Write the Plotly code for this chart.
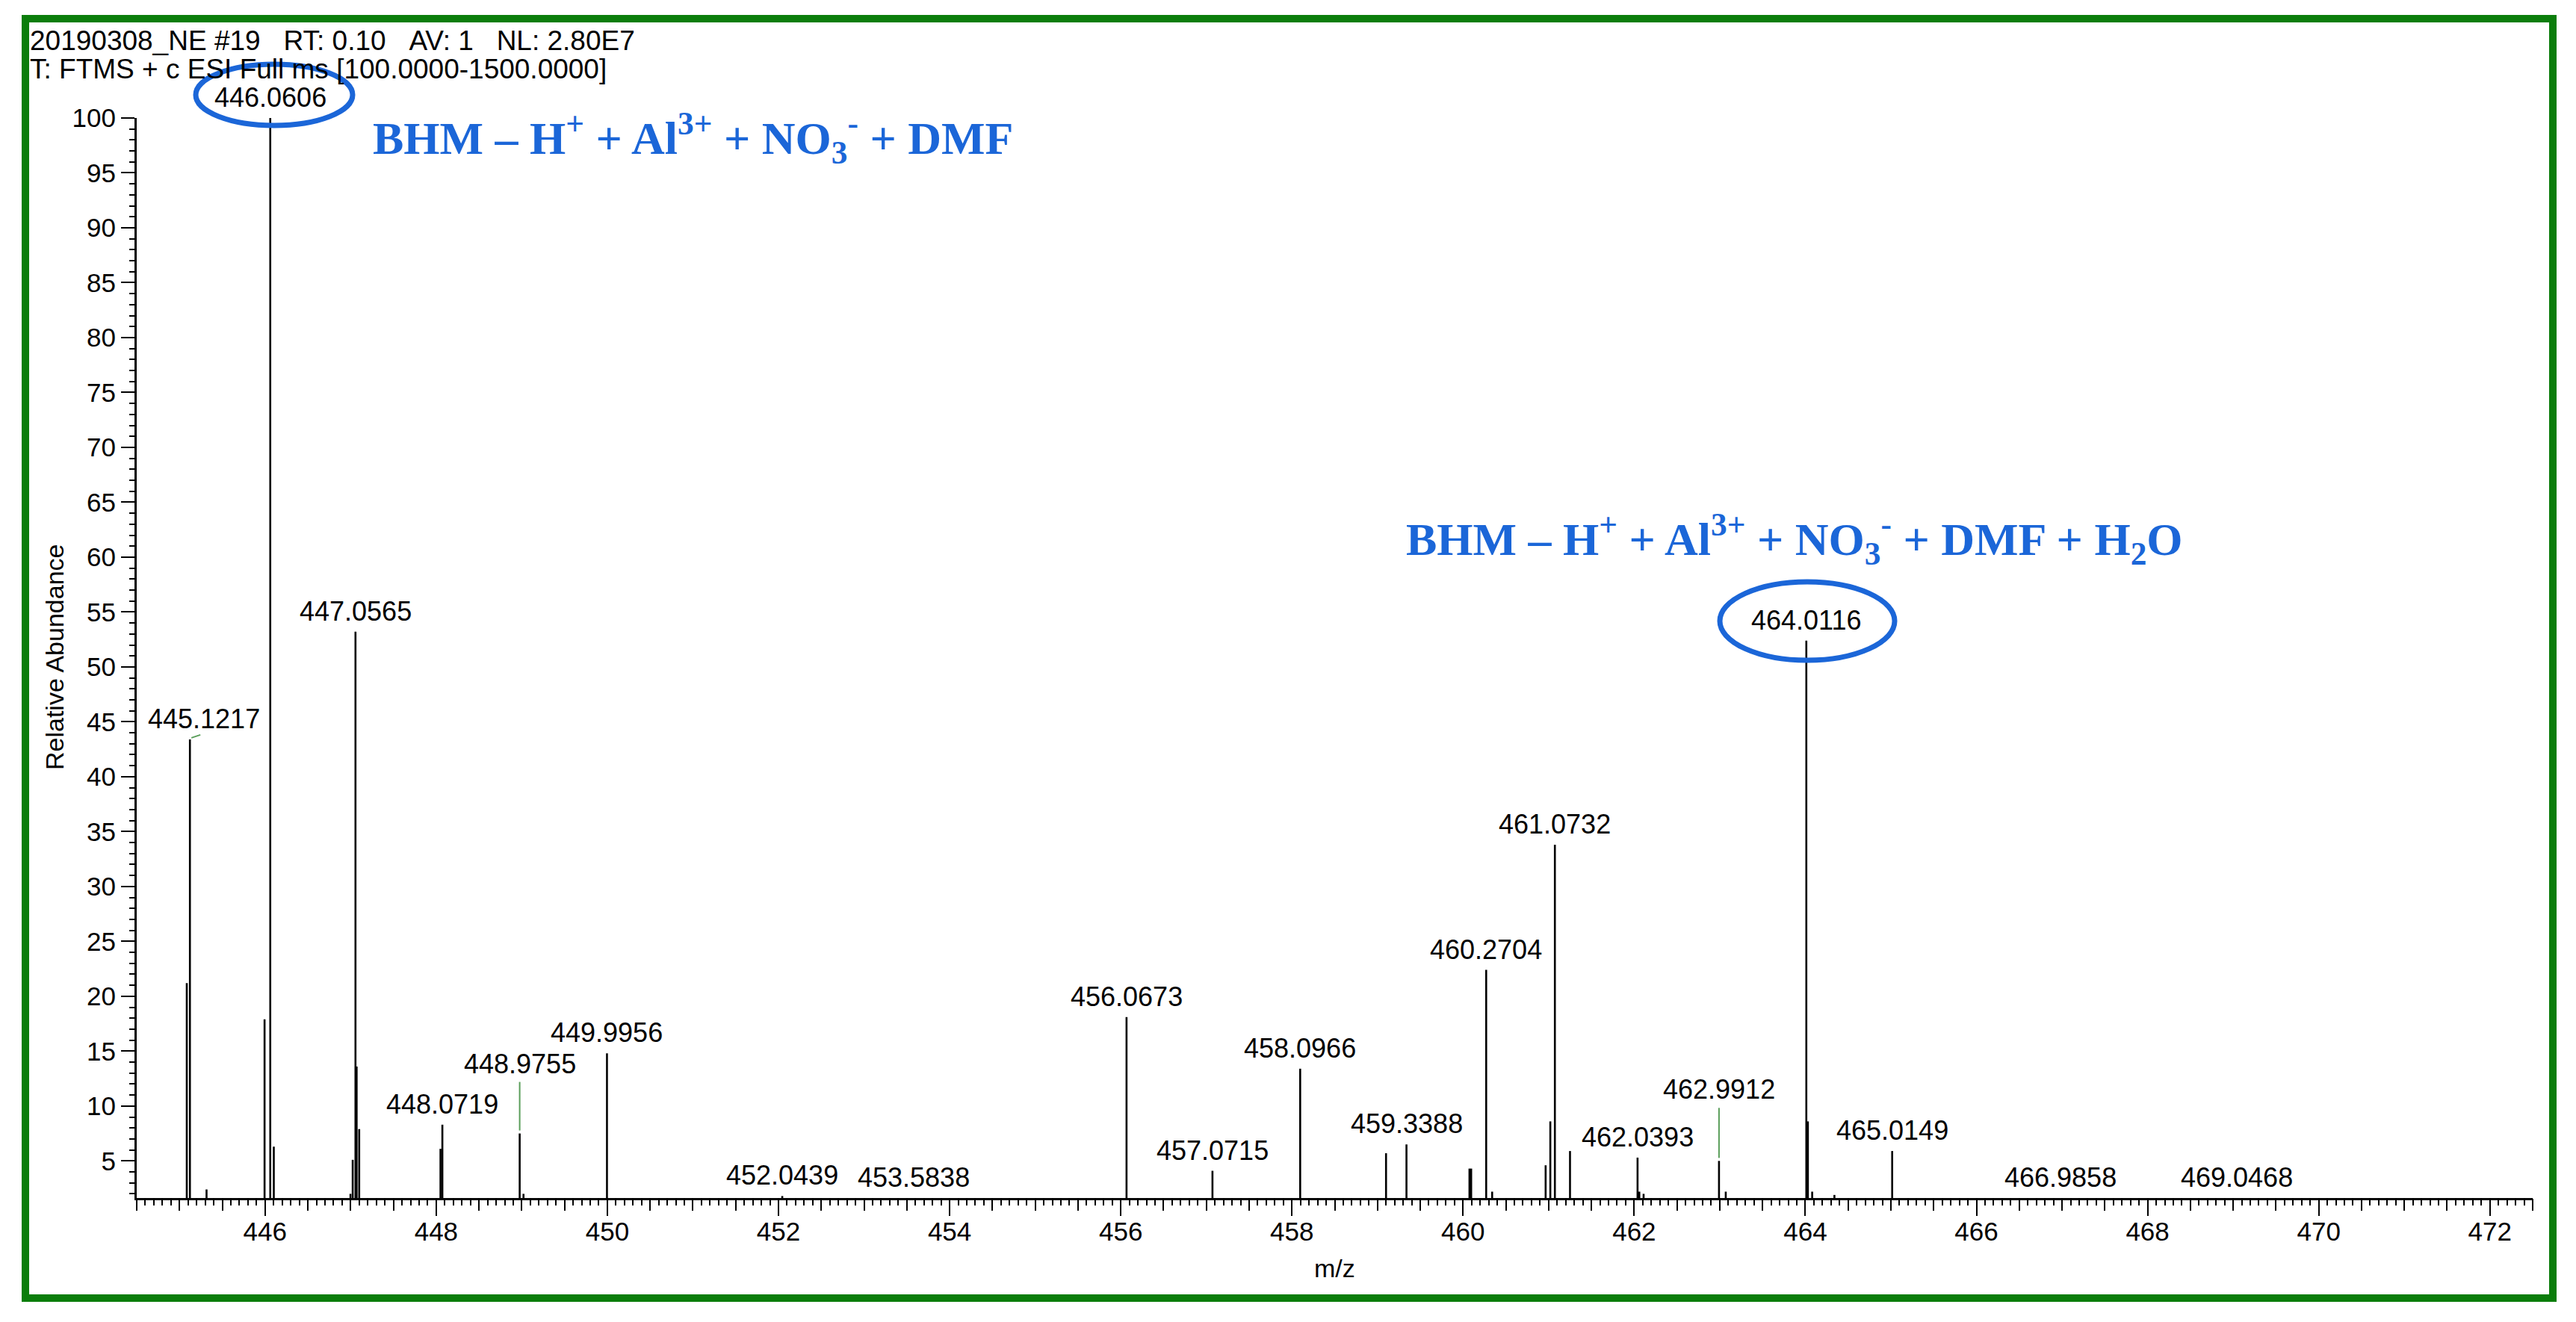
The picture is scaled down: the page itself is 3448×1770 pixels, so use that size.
import plotly.graph_objects as go

# ---------------- data ----------------
labeled_mz = [445.1217, 446.0606, 447.0565, 448.0719, 448.9755, 449.9956, 452.0439,
              453.5838, 456.0673, 457.0715, 458.0966, 459.3388, 460.2704, 461.0732,
              462.0393, 462.9912, 464.0116, 465.0149, 466.9858, 469.0468]
labeled_intensity = [43.4, 100.0, 53.2, 8.3, 7.5, 14.8, 1.8,
                     1.5, 18.1, 4.1, 13.4, 6.5, 22.4, 33.8,
                     5.3, 5.0, 52.4, 5.9, 1.5, 1.5]

other_mz = [445.085, 445.316, 445.994, 446.102, 446.998, 447.024, 447.07, 447.10,
            448.05, 449.02, 459.10, 460.075, 460.095, 460.34, 460.965, 461.02,
            461.25, 462.06, 462.11, 463.07, 464.03, 464.08, 464.34]
other_intensity = [21.2, 2.4, 17.9, 6.3, 2.0, 5.1, 13.6, 7.9,
                   6.1, 2.0, 5.7, 4.3, 4.3, 2.2, 4.6, 8.6,
                   5.9, 2.2, 2.0, 2.2, 8.6, 2.2, 1.9]

x_tick_labels = [446, 448, 450, 452, 454, 456, 458, 460, 462, 464, 466, 468, 470, 472]
y_tick_labels = [5, 10, 15, 20, 25, 30, 35, 40, 45, 50, 55, 60, 65, 70, 75, 80, 85, 90, 95, 100]

NB = "\u00a0"
header_lines = [f"20190308_NE #19{NB*3}RT: 0.10{NB*3}AV: 1{NB*3}NL: 2.80E7",
                "T: FTMS + c ESI Full ms [100.0000-1500.0000]"]
formula_1 = "BHM \u2013 H<sup>+</sup> + Al<sup>3+</sup> + NO<sub>3</sub><sup>-</sup> + DMF"
formula_2 = "BHM \u2013 H<sup>+</sup> + Al<sup>3+</sup> + NO<sub>3</sub><sup>-</sup> + DMF + H<sub>2</sub>O"

# ---------------- geometry (page pixels) ----------------
OFF = 8                       # default body margin of the html page
PAGE_W, PAGE_H = 3448, 1770
W, H = PAGE_W - 2 * OFF, PAGE_H - 2 * OFF
L, R, T, B = 183, 3390, 158, 1604   # plot area in page pixels
X_RANGE = [444.5, 472.5]
Y_RANGE = [1.62, 100]


def px_x(px):
    return (px - L) / (R - L)


def px_y(py):
    return (B - py) / (B - T)


BLUE = "#1b66d8"
GREEN_BORDER = "#0b7d0b"
GREEN_LEADER = "#5a9e5a"
TXT = "Liberation Sans, Arial, sans-serif"
SERIF = "Liberation Serif, Times New Roman, serif"

fig = go.Figure()

all_mz = labeled_mz + other_mz
all_int = labeled_intensity + other_intensity
xs, ys = [], []
for m, v in zip(all_mz, all_int):
    xs += [m, m, None]
    ys += [0, v, None]
fig.add_trace(go.Scatter(x=xs, y=ys, mode="lines",
                         line=dict(color="black", width=2.6),
                         hoverinfo="skip", showlegend=False))

# invisible trace for the half-unit tick overlay axis
fig.add_trace(go.Scatter(x=[X_RANGE[0]], y=[Y_RANGE[0]], xaxis="x2", yaxis="y", mode="markers",
                         marker=dict(opacity=0), hoverinfo="skip", showlegend=False))

# peak labels
leader_lift = {448.9755: 66, 462.9912: 68}
label_xshift = {445.1217: 19}
for m, v in zip(labeled_mz, labeled_intensity):
    lift = leader_lift.get(m, 0)
    fig.add_annotation(x=m, y=max(v, Y_RANGE[0] + 0.01), xref="x", yref="y",
                       text=f"{m:.4f}", showarrow=False,
                       yanchor="bottom", xanchor="center", yshift=5 + lift,
                       xshift=label_xshift.get(m, 0),
                       font=dict(family=TXT, size=36, color="black"))
    if lift:
        fig.add_shape(type="line", xref="x", yref="y", ysizemode="pixel", yanchor=v,
                      x0=m, x1=m, y0=4, y1=lift + 3,
                      line=dict(color=GREEN_LEADER, width=2))
# small green leader under the shifted 445.1217 label
fig.add_shape(type="line", xref="x", yref="y", ysizemode="pixel", yanchor=labeled_intensity[0],
              xsizemode="pixel", xanchor=labeled_mz[0], x0=2, x1=14, y0=2, y1=6,
              line=dict(color=GREEN_LEADER, width=2))

# header text
fig.add_annotation(x=px_x(38), y=px_y(54), xref="paper", yref="paper", text=header_lines[0],
                   showarrow=False, xanchor="left", yanchor="middle",
                   font=dict(family=TXT, size=37, color="black"))
fig.add_annotation(x=px_x(38), y=px_y(93), xref="paper", yref="paper", text=header_lines[1],
                   showarrow=False, xanchor="left", yanchor="middle",
                   font=dict(family=TXT, size=37, color="black"))

# formulas
fig.add_annotation(x=px_x(497), y=px_y(184), xref="paper", yref="paper", text=formula_1,
                   showarrow=False, xanchor="left", yanchor="middle",
                   font=dict(family=SERIF, size=62, color=BLUE, weight="bold"))
fig.add_annotation(x=px_x(1880), y=px_y(722), xref="paper", yref="paper", text=formula_2,
                   showarrow=False, xanchor="left", yanchor="middle",
                   font=dict(family=SERIF, size=62, color=BLUE, weight="bold"))

# axis titles
fig.add_annotation(x=px_x(73), y=px_y(880), xref="paper", yref="paper", text="Relative Abundance",
                   showarrow=False, textangle=-90, xanchor="center", yanchor="middle",
                   font=dict(family=TXT, size=34, color="black"))
fig.add_annotation(x=px_x(1786), y=px_y(1698), xref="paper", yref="paper", text="m/z",
                   showarrow=False, xanchor="center", yanchor="middle",
                   font=dict(family=TXT, size=34, color="black"))

# ellipses
fig.add_shape(type="circle", xref="paper", yref="paper",
              x0=px_x(262), x1=px_x(472), y0=px_y(168), y1=px_y(86),
              line=dict(color=BLUE, width=7))
fig.add_shape(type="circle", xref="paper", yref="paper",
              x0=px_x(2302), x1=px_x(2536), y0=px_y(884), y1=px_y(779),
              line=dict(color=BLUE, width=7))

# green frame
fig.add_shape(type="rect", xref="paper", yref="paper",
              x0=px_x(34), x1=px_x(3417), y0=px_y(1738), y1=px_y(25),
              line=dict(color=GREEN_BORDER, width=10))

fig.update_layout(
    width=W, height=H,
    margin=dict(l=L - OFF, r=W - (R - OFF), t=T - OFF, b=H - (B - OFF), pad=0),
    paper_bgcolor="white", plot_bgcolor="white",
    font=dict(family=TXT, color="black"),
    showlegend=False,
    xaxis=dict(range=X_RANGE, tickmode="array", tickvals=x_tick_labels,
               ticktext=[str(v) for v in x_tick_labels],
               ticks="outside", ticklen=21, tickwidth=2, tickcolor="black",
               ticklabelstandoff=-9,
               tickfont=dict(family=TXT, size=35, color="black"),
               showline=True, linecolor="black", linewidth=3,
               showgrid=False, zeroline=False,
               minor=dict(tickmode="linear", tick0=444.5, dtick=0.1, ticks="outside",
                          ticklen=7, tickwidth=1.6, tickcolor="black")),
    xaxis2=dict(range=X_RANGE, overlaying="x", anchor="y", side="bottom",
                tickmode="linear", tick0=444.5, dtick=0.5, ticks="outside",
                ticklen=16, tickwidth=2, tickcolor="black", showticklabels=False,
                showline=False, showgrid=False, zeroline=False),
    yaxis=dict(range=Y_RANGE, tickmode="array", tickvals=y_tick_labels,
               ticktext=[str(v) for v in y_tick_labels],
               ticks="outside", ticklen=18, tickwidth=2, tickcolor="black",
               tickfont=dict(family=TXT, size=35, color="black"),
               showline=True, linecolor="black", linewidth=3,
               showgrid=False, zeroline=False,
               minor=dict(tickmode="linear", tick0=0, dtick=1, ticks="outside",
                          ticklen=7, tickwidth=1.6, tickcolor="black")),
)

fig.write_html("out.html")
